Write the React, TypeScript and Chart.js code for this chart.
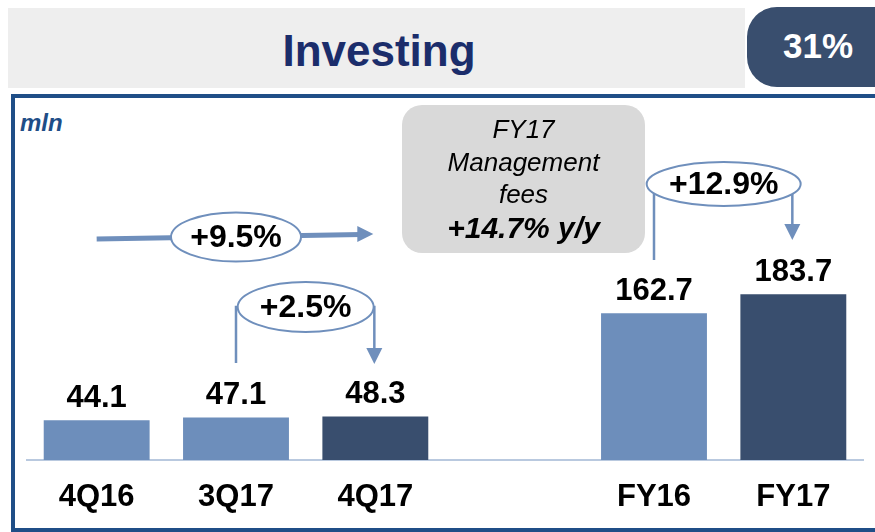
import React, { useEffect, useRef } from "react";
import { Chart, registerables } from "chart.js";

Chart.register(...registerables);

// ---- data ----
const categories = ["4Q16", "3Q17", "4Q17", "", "FY16", "FY17"];
const values: (number | null)[] = [44.1, 47.1, 48.3, null, 162.7, 183.7];
const valueLabels = ["44.1", "47.1", "48.3", "", "162.7", "183.7"];
const barColors = ["#6d8ebb", "#6d8ebb", "#394e6e", "#6d8ebb", "#6d8ebb", "#394e6e"];
const growthLabels = ["+9.5%", "+2.5%", "+12.9%"];
const titleText = "Investing";
const shareText = "31%";
const unitText = "mln";
const calloutLines = ["FY17", "Management", "fees", "+14.7% y/y"];

const FONT = "'Liberation Sans', Arial, sans-serif";
const ARROW = "#6f8fbc";

function arrowHead(ctx: CanvasRenderingContext2D, x: number, y: number, dir: "right" | "down", len: number, half: number) {
  ctx.beginPath();
  if (dir === "right") {
    ctx.moveTo(x, y);
    ctx.lineTo(x - len, y - half);
    ctx.lineTo(x - len, y + half);
  } else {
    ctx.moveTo(x, y);
    ctx.lineTo(x - half, y - len);
    ctx.lineTo(x + half, y - len);
  }
  ctx.closePath();
  ctx.fillStyle = ARROW;
  ctx.fill();
}

function ellipseLabel(ctx: CanvasRenderingContext2D, cx: number, cy: number, rx: number, ry: number, text: string) {
  ctx.beginPath();
  ctx.ellipse(cx, cy, rx, ry, 0, 0, Math.PI * 2);
  ctx.fillStyle = "#ffffff";
  ctx.fill();
  ctx.lineWidth = 2;
  ctx.strokeStyle = ARROW;
  ctx.stroke();
  ctx.fillStyle = "#000000";
  ctx.font = `bold 32px ${FONT}`;
  ctx.textAlign = "center";
  ctx.textBaseline = "middle";
  ctx.fillText(text, cx, cy + 1);
}

const decorPlugin = {
  id: "decor",
  afterDatasetsDraw(chart: any) {
    const ctx: CanvasRenderingContext2D = chart.ctx;
    const meta = chart.getDatasetMeta(0);
    const xs = chart.scales.x;
    ctx.save();
    // value labels
    ctx.font = `bold 31px ${FONT}`;
    ctx.fillStyle = "#000000";
    ctx.textAlign = "center";
    ctx.textBaseline = "middle";
    meta.data.forEach((bar: any, i: number) => {
      if (values[i] == null) return;
      ctx.fillText(valueLabels[i], bar.x, bar.y - 22);
    });

    const c = (i: number) => xs.getPixelForValue(i);

    // +9.5% long arrow (4Q16 -> 4Q17)
    ctx.strokeStyle = ARROW;
    ctx.lineWidth = 5;
    ctx.beginPath();
    ctx.moveTo(c(0), 239);
    ctx.lineTo(c(2) - 14, 234.5);
    ctx.stroke();
    arrowHead(ctx, c(2) - 2, 234, "right", 16, 8);
    ellipseLabel(ctx, c(1), 237, 65, 24.5, growthLabels[0]);

    // +2.5% bracket (3Q17 -> 4Q17)
    ctx.strokeStyle = ARROW;
    ctx.lineWidth = 2.5;
    ctx.beginPath();
    ctx.moveTo(c(1), 363);
    ctx.lineTo(c(1), 307);
    ctx.lineTo((c(1) + c(2)) / 2, 307);
    ctx.moveTo((c(1) + c(2)) / 2, 307);
    ctx.lineTo(c(2) - 1, 307);
    ctx.lineTo(c(2) - 1, 350);
    ctx.stroke();
    arrowHead(ctx, c(2) - 1, 364, "down", 16, 8);
    ellipseLabel(ctx, (c(1) + c(2)) / 2, 307, 68, 25, growthLabels[1]);

    // +12.9% bracket (FY16 -> FY17)
    ctx.strokeStyle = ARROW;
    ctx.lineWidth = 2.5;
    ctx.beginPath();
    ctx.moveTo(c(4), 260);
    ctx.lineTo(c(4), 186);
    ctx.moveTo(c(5) - 1, 186);
    ctx.lineTo(c(5) - 1, 226);
    ctx.stroke();
    arrowHead(ctx, c(5) - 1, 240, "down", 16, 8);
    ellipseLabel(ctx, (c(4) + c(5)) / 2, 184, 77, 22, growthLabels[2]);

    ctx.restore();
  },
};

export default function App() {
  const canvasRef = useRef<HTMLCanvasElement | null>(null);

  useEffect(() => {
    if (!canvasRef.current) return;
    const chart = new Chart(canvasRef.current, {
      type: "bar",
      data: {
        labels: categories,
        datasets: [
          {
            data: values as any,
            backgroundColor: barColors,
            barPercentage: 0.76,
            categoryPercentage: 1,
          },
        ],
      },
      options: {
        animation: false,
        responsive: false,
        maintainAspectRatio: false,
        events: [],
        layout: { padding: { left: 27, right: 12, top: 99, bottom: 0 } },
        plugins: { legend: { display: false }, tooltip: { enabled: false }, title: { display: false } },
        scales: {
          x: {
            grid: { display: false, drawTicks: false },
            border: { display: true, color: "#b9c9df", width: 2 },
            ticks: { color: "#000000", padding: 19, font: { family: FONT, size: 31, weight: "bold" } },
            afterFit: (s: any) => {
              s.height = 72;
            },
          },
          y: { display: false, min: 0, max: 400 },
        },
      },
      plugins: [decorPlugin],
    });
    return () => chart.destroy();
  }, []);

  return (
    <div style={{ position: "fixed", left: 0, top: 0, width: 875, height: 532, overflow: "hidden", background: "#ffffff", fontFamily: FONT }}>
      {/* title bar */}
      <div style={{ position: "absolute", left: 8, top: 8, width: 737, height: 80, background: "#eeeeee" }} />
      <div style={{ position: "absolute", left: 8, top: 23, width: 742, textAlign: "center", fontSize: 44, fontWeight: "bold", color: "#1b2d6b", lineHeight: "56px" }}>
        {titleText}
      </div>
      {/* badge */}
      <div style={{ position: "absolute", left: 747, top: 7, width: 170, height: 80, borderRadius: 30, background: "#394e6e" }} />
      <div style={{ position: "absolute", left: 768, top: 25, width: 100, textAlign: "center", fontSize: 35, fontWeight: "bold", color: "#ffffff", lineHeight: "42px" }}>
        {shareText}
      </div>
      {/* frame */}
      <div style={{ position: "absolute", left: 11, top: 94, width: 880, height: 438, boxSizing: "border-box", border: "4px solid #1f4e87" }} />
      <div style={{ position: "absolute", left: 20, top: 108, fontSize: 24, fontWeight: "bold", fontStyle: "italic", color: "#1f4e87", lineHeight: "30px" }}>
        {unitText}
      </div>
      <canvas ref={canvasRef} width={875} height={532} style={{ position: "absolute", left: 0, top: 0, width: 875, height: 532 }} />
      {/* callout */}
      <div style={{ position: "absolute", left: 402, top: 105, width: 243, height: 148, borderRadius: 20, background: "#d9d9d9" }} />
      {calloutLines.map((t, i) => (
        <div
          key={i}
          style={{
            position: "absolute",
            left: 402,
            width: 243,
            top: [113, 146, 178, 209][i],
            textAlign: "center",
            fontStyle: "italic",
            fontWeight: i === 3 ? "bold" : "normal",
            fontSize: i === 3 ? 30 : 26,
            lineHeight: i === 3 ? "38px" : "32px",
            color: "#000000",
          }}
        >
          {t}
        </div>
      ))}
    </div>
  );
}
